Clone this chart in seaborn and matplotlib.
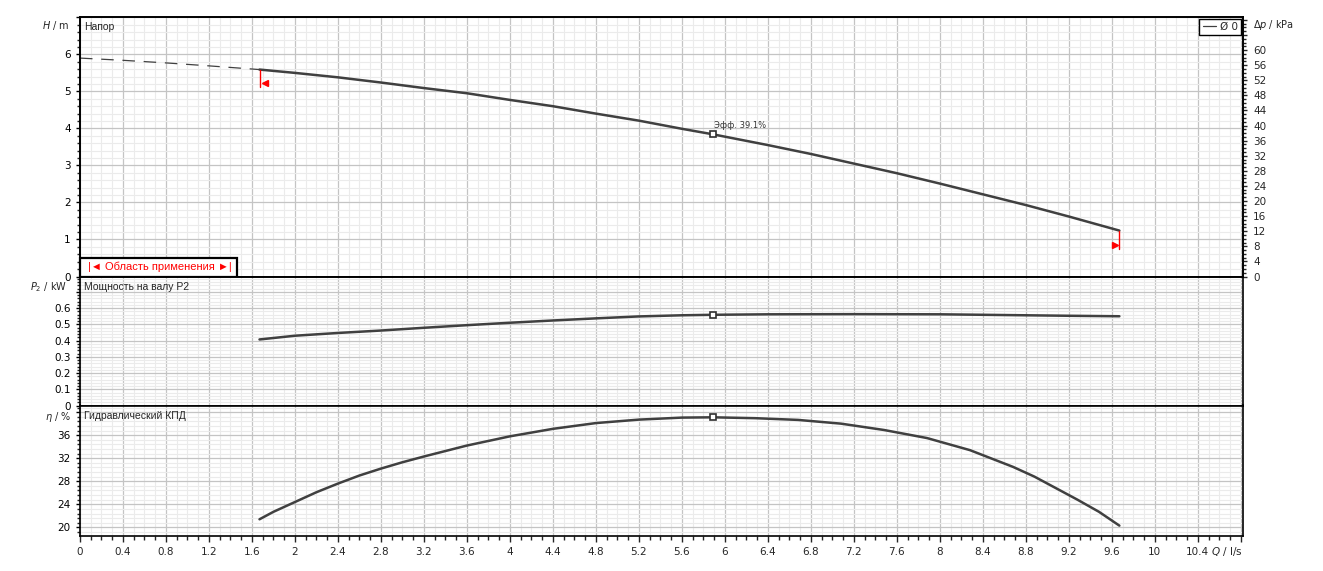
import numpy as np
import pandas as pd
import matplotlib
matplotlib.use("Agg")
import matplotlib.pyplot as plt
import seaborn as sns
from matplotlib.ticker import MultipleLocator, FuncFormatter
from matplotlib.patches import Rectangle

# ---------------- data ----------------
q_ext = [0.0, 0.4, 0.8, 1.2, 1.67]
h_ext = [5.90, 5.84, 5.77, 5.69, 5.59]

q_head = [1.67, 2.0, 2.4, 2.8, 3.2, 3.6, 4.0, 4.4, 4.8, 5.2, 5.6, 5.89,
          6.4, 6.8, 7.2, 7.6, 8.0, 8.4, 8.8, 9.2, 9.67]
head = [5.59, 5.50, 5.38, 5.24, 5.09, 4.95, 4.77, 4.60, 4.40, 4.21, 3.99, 3.84,
        3.55, 3.31, 3.05, 2.79, 2.51, 2.22, 1.93, 1.62, 1.24]

q_pow = [1.67, 2.0, 2.4, 2.8, 3.2, 3.6, 4.0, 4.4, 4.8, 5.2, 5.6, 5.89,
         6.4, 7.2, 8.0, 8.4, 8.8, 9.2, 9.67]
power = [0.407, 0.430, 0.447, 0.462, 0.479, 0.495, 0.510, 0.524, 0.537, 0.549,
         0.556, 0.559, 0.562, 0.563, 0.562, 0.559, 0.556, 0.553, 0.550]

q_eff = [1.67, 1.8, 2.0, 2.2, 2.4, 2.6, 2.8, 3.0, 3.2, 3.6, 4.0, 4.4, 4.8, 5.2, 5.6, 5.89,
         6.28, 6.68, 7.08, 7.48, 7.88, 8.28, 8.68, 8.88, 9.08, 9.28, 9.48, 9.67]
eff = [21.4, 22.7, 24.4, 26.1, 27.6, 29.0, 30.2, 31.3, 32.3, 34.2, 35.8, 37.1,
       38.1, 38.7, 39.05, 39.1, 38.95, 38.65, 38.0, 36.9, 35.5, 33.4, 30.5,
       28.8, 26.8, 24.8, 22.7, 20.3]

q_bep, h_bep, p_bep, eta_bep = 5.89, 3.84, 0.559, 39.1
kpa_per_m = 9.81
legend_label = "Ø 0"
titles = ["Напор", "Мощность на валу P2", "Гидравлический КПД"]
range_label = "|◄ Область применения ►|"

# ---------------- style ----------------
sns.set_style("white")
plt.rcParams['font.family'] = ['DejaVu Sans']
plt.rcParams['mathtext.fontset'] = 'dejavusans'

CURVE = '#404040'
GMAJ = '#c4c4c4'
GMIN = '#ebebeb'
FS = 7.5
LAB_FONT = ['Liberation Sans', 'DejaVu Sans']

W, H = 1323, 571
fig = plt.figure(figsize=(W / 100, H / 100), dpi=100)


def fx(px):
    return px / W


def fy(py):
    return 1 - py / H


L, R = fx(80), fx(1243)
ax1 = fig.add_axes([L, fy(276.5), R - L, fy(17) - fy(276.5)])
ax2 = fig.add_axes([L, fy(405.5), R - L, fy(276.5) - fy(405.5)], sharex=ax1)
ax3 = fig.add_axes([L, fy(536), R - L, fy(405.5) - fy(536)], sharex=ax1)


def blank_above(limit, fmt):
    return FuncFormatter(lambda v, p: '' if v > limit else fmt(v))


for ax in (ax1, ax2, ax3):
    ax.set_axisbelow(True)
    ax.xaxis.set_major_locator(MultipleLocator(0.4))
    ax.xaxis.set_minor_locator(MultipleLocator(0.1))
    ax.grid(which='minor', color=GMIN, lw=0.8)
    ax.grid(which='major', color=GMAJ, lw=0.9)
    for s in ax.spines.values():
        s.set_visible(True)
        s.set_color('black')
        s.set_linewidth(1.2)
    ax.tick_params(axis='y', which='major', direction='out', length=3.2, width=1,
                   pad=3.5, labelsize=FS, left=True, colors='black')
    ax.tick_params(axis='y', which='minor', direction='out', length=2.2, width=1,
                   left=True)
    ax.tick_params(axis='x', which='both', bottom=False, labelbottom=False)

ax1.set_xlim(0, 10.82)

# --- top panel: head
ax1.set_ylim(0, 7.01)
ax1.yaxis.set_major_locator(MultipleLocator(1))
ax1.yaxis.set_minor_locator(MultipleLocator(0.2))
ax1.yaxis.set_major_formatter(blank_above(6.5, lambda v: f"{v:g}"))

sns.lineplot(x=q_ext, y=h_ext, ax=ax1, color=CURVE, lw=0.9, ls=(0, (10, 7)),
             estimator=None, legend=False)
sns.lineplot(x=q_head, y=head, ax=ax1, color=CURVE, lw=1.8, estimator=None,
             legend=False)
head_line = ax1.lines[-1]
ax1.plot([q_bep], [h_bep], marker='s', ms=4.5, mfc='white', mec='#303030',
         mew=1.2, zorder=6)
ax1.annotate(f"Эфф. {eta_bep}%", xy=(q_bep, h_bep), xytext=(1, 3),
             textcoords='offset points', ha='left', va='bottom', fontsize=6,
             color='#333333')

# operating range markers (red)
ax1.plot([q_head[0], q_head[0]], [head[0], head[0] - 0.47], color='red', lw=1,
         zorder=5)
ax1.plot([q_head[0] + 0.05], [head[0] - 0.37], marker='<', ms=5, color='red',
         zorder=5)
ax1.plot([q_head[-1], q_head[-1]], [head[-1], head[-1] - 0.5], color='red', lw=1,
         zorder=5)
ax1.plot([q_head[-1] - 0.04], [head[-1] - 0.39], marker='>', ms=5, color='red',
         zorder=5)

# operating range box
bw, bh = 157 / 1163, 18.5 / 259.5
ax1.add_patch(Rectangle((0, 0), bw, bh, transform=ax1.transAxes, facecolor='white',
                        edgecolor='black', lw=1.6, zorder=8, clip_on=False))
ax1.text(bw / 2 + 0.001, bh / 2, range_label, transform=ax1.transAxes, ha='center',
         va='center', color='red', fontsize=8, family=LAB_FONT, zorder=9)

# right axis: kPa
ax1r = ax1.twinx()
ax1r.set_ylim(0, 7.01 * kpa_per_m)
ax1r.yaxis.set_major_locator(MultipleLocator(4))
ax1r.yaxis.set_minor_locator(MultipleLocator(1))
ax1r.yaxis.set_major_formatter(blank_above(62, lambda v: f"{v:g}"))
ax1r.tick_params(axis='y', which='major', direction='out', length=3.2, width=1,
                 pad=4, labelsize=FS, right=True)
ax1r.tick_params(axis='y', which='minor', direction='out', length=2.2, width=1,
                 right=True)
ax1r.grid(False)
for s in ax1r.spines.values():
    s.set_color('black')
    s.set_linewidth(1.2)
leg = ax1r.legend(handles=[head_line], labels=[legend_label], loc='upper right',
                  fontsize=FS, frameon=True, fancybox=False, framealpha=1,
                  edgecolor='black', borderaxespad=0.15, handlelength=1.3,
                  handletextpad=0.4, borderpad=0.3)
leg.get_frame().set_linewidth(1.0)
leg.get_lines()[0].set_linewidth(0.9)

# --- middle panel: power
ax2.set_ylim(0, 0.795)
ax2.yaxis.set_major_locator(MultipleLocator(0.1))
ax2.yaxis.set_minor_locator(MultipleLocator(0.02))
ax2.yaxis.set_major_formatter(blank_above(0.65, lambda v: f"{round(v, 1):g}"))
sns.lineplot(x=q_pow, y=power, ax=ax2, color=CURVE, lw=1.8, estimator=None,
             legend=False)
ax2.plot([q_bep], [p_bep], marker='s', ms=4.5, mfc='white', mec='#303030',
         mew=1.2, zorder=6)

# --- bottom panel: efficiency
ax3.set_ylim(18.5, 41.15)
ax3.yaxis.set_major_locator(MultipleLocator(4))
ax3.yaxis.set_minor_locator(MultipleLocator(0.8))
ax3.yaxis.set_major_formatter(blank_above(38, lambda v: f"{v:g}"))
sns.lineplot(x=q_eff, y=eff, ax=ax3, color=CURVE, lw=1.8, estimator=None,
             legend=False)
ax3.plot([q_bep], [eta_bep], marker='s', ms=4.5, mfc='white', mec='#303030',
         mew=1.2, zorder=6)
ax3.tick_params(axis='x', which='major', bottom=True, labelbottom=True,
                direction='out', length=4.2, width=1, pad=3.8, labelsize=FS)
ax3.tick_params(axis='x', which='minor', bottom=True, direction='out',
                length=3, width=1)
ax3.xaxis.set_major_formatter(blank_above(10.5, lambda v: f"{round(v, 1):g}"))

for ax in (ax1, ax2, ax3, ax1r):
    ax.set_xlabel('')
    ax.set_ylabel('')

# panel titles
for ax, t in zip((ax1, ax2, ax3), titles):
    ax.annotate(t, xy=(0, 1), xycoords='axes fraction', xytext=(4, -10.5),
                textcoords='offset pixels', ha='left', va='center', fontsize=FS,
                family=LAB_FONT, zorder=7)

# axis unit labels
UFS = 7
fig.text(fx(70), fy(26), r"$H$ / m", ha='right', va='center', fontsize=UFS)
fig.text(fx(67), fy(287), r"$P_2$ / kW", ha='right', va='center', fontsize=UFS)
fig.text(fx(71), fy(417.5), r"$\eta$ / %", ha='right', va='center', fontsize=UFS)
fig.text(fx(1253), fy(25), r"$\Delta p$ / kPa", ha='left', va='center', fontsize=UFS)
fig.text(fx(1243), fy(551), r"$Q$ / l/s", ha='right', va='center', fontsize=FS)

fig.savefig("out.png", dpi=100, facecolor='white')
